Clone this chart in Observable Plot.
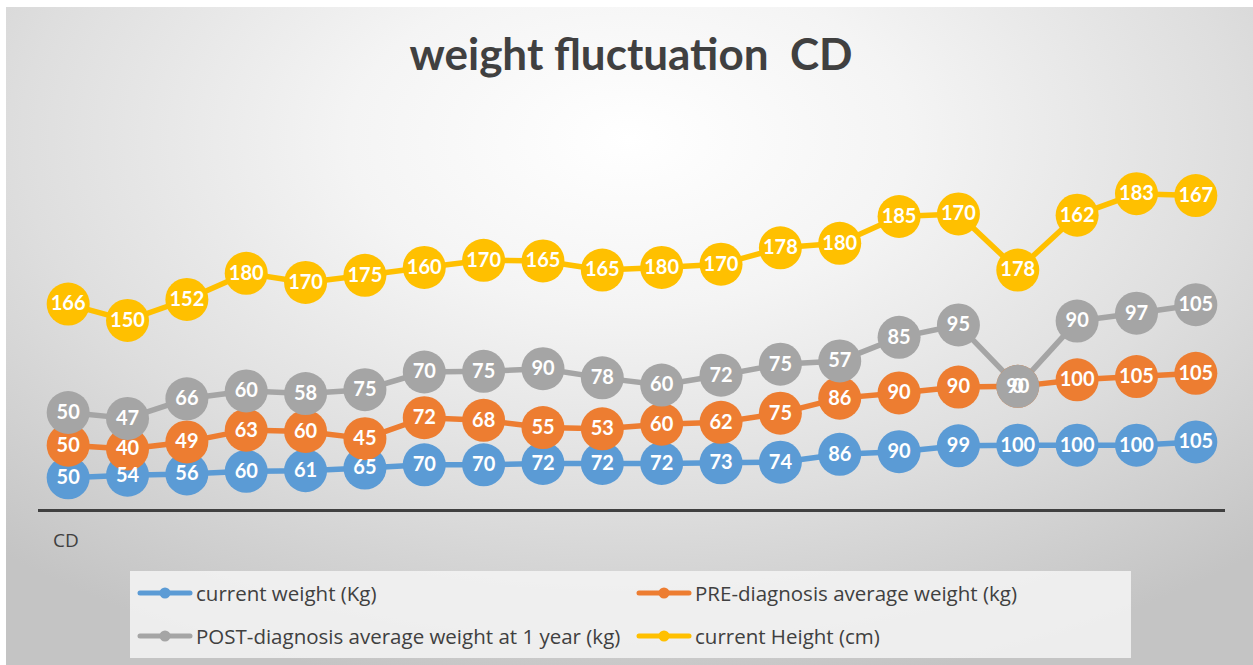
<!DOCTYPE html>
<html><head><meta charset="utf-8">
<script src="https://cdn.jsdelivr.net/npm/d3@7"></script>
<script src="https://cdn.jsdelivr.net/npm/@observablehq/plot@0.6"></script>
<style>
html,body{margin:0;padding:0;background:#fff;}
#wrap{position:relative;width:1253px;height:665px;overflow:hidden;font-family:Lato,"Open Sans",sans-serif;}
#bg{position:absolute;left:6px;top:7px;right:0;bottom:0;background:radial-gradient(ellipse 75% 85% at 50% 20%, #ffffff 0%, #f4f4f4 30%, #dedede 65%, #c4c4c4 100%);}
#title{position:absolute;left:0;width:1262px;top:27px;text-align:center;font-size:44px;font-weight:bold;color:#404040;white-space:pre;}
#cat{position:absolute;left:53px;top:527px;font-size:19px;color:#404040;font-family:"Open Sans",sans-serif;}
#legend{position:absolute;left:130px;top:571px;width:1001px;height:87px;background:rgba(244,244,244,0.85);}
.li{position:absolute;display:flex;align-items:center;font-size:20.5px;color:#404040;white-space:nowrap;font-family:"Open Sans",sans-serif;}
.li svg{margin-right:3px;}
#plot{position:absolute;left:0;top:0;}
</style></head>
<body><div id="wrap"><div id="bg"></div><div id="plot"></div><div id="title">weight fluctuation  CD</div><div id="cat">CD</div><div id="legend"></div></div>
<script>
const seriesNames = ["current weight (Kg)", "PRE-diagnosis average weight (kg)", "POST-diagnosis average weight at 1 year (kg)", "current Height (cm)"];
const seriesColors = ["#5B9BD5", "#ED7D31", "#A5A5A5", "#FFC000"];
const points = d3.range(1, 21);
const currentWeight = [50,54,56,60,61,65,70,70,72,72,72,73,74,86,90,99,100,100,100,105];
const preWeight = [50,40,49,63,60,45,72,68,55,53,60,62,75,86,90,90,90,100,105,105];
const postWeight = [50,47,66,60,58,75,70,75,90,78,60,72,75,57,85,95,0,90,97,105];
const currentHeight = [166,150,152,180,170,175,160,170,165,165,180,170,178,180,185,170,178,162,183,167];

const allSeries = [currentWeight, preWeight, postWeight, currentHeight];
const data = [];
allSeries.forEach((vals, s) => vals.forEach((v, i) => data.push({x: points[i], y: v, series: seriesNames[s]})));

const stackOpts = {x: "x", y: "y", z: "series", order: seriesNames};
const chart = Plot.plot({
  width: 1253, height: 665,
  marginLeft: 38, marginRight: 28, marginTop: 118, marginBottom: 155,
  style: {background: "transparent", overflow: "visible"},
  x: {domain: [0.5, 20.5], axis: null},
  y: {domain: [0, 600], axis: null},
  color: {domain: seriesNames, range: seriesColors},
  marks: [
    Plot.ruleY([0], {stroke: "#404040", strokeWidth: 3}),
    Plot.lineY(data, Plot.stackY2({...stackOpts, stroke: "series", strokeWidth: 5.5})),
    Plot.dot(data, Plot.stackY2({...stackOpts, fill: "series", r: 21.5, stroke: "none"})),
    Plot.text(data, Plot.stackY2({...stackOpts, text: d => String(d.y), fill: "white", fontSize: 20, fontWeight: "bold", fontFamily: "Lato, 'Open Sans', sans-serif"}))
  ]
});
document.getElementById("plot").appendChild(chart);

const legend = document.getElementById("legend");
const pos = [[7, 23], [506, 23], [7, 66], [506, 66]];
seriesNames.forEach((n, i) => {
  const el = document.createElement("div");
  el.className = "li";
  el.style.left = pos[i][0] + "px";
  el.style.top = (pos[i][1] - 15) + "px";
  el.innerHTML = `<svg width="56" height="12"><line x1="3" x2="53" y1="6" y2="6" stroke="${seriesColors[i]}" stroke-width="5" stroke-linecap="round"/><circle cx="28" cy="6" r="5.5" fill="${seriesColors[i]}"/></svg><span>${n}</span>`;
  legend.appendChild(el);
});
</script></body></html>
